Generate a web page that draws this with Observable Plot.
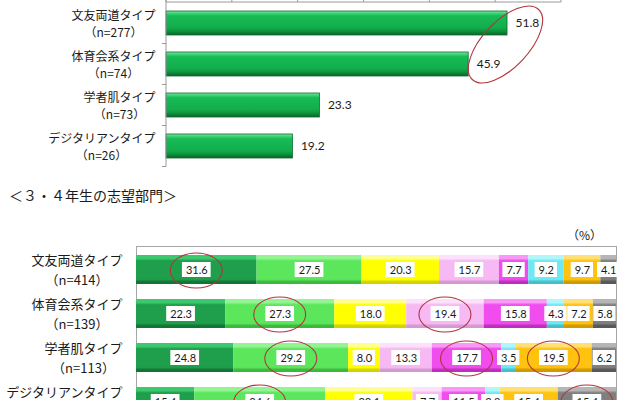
<!DOCTYPE html>
<html><head><meta charset="utf-8">
<script src="https://cdn.jsdelivr.net/npm/d3@7"></script>
<script src="https://cdn.jsdelivr.net/npm/@observablehq/plot@0.6"></script>
<style>
body{margin:0;background:#fff;width:640px;height:400px;overflow:hidden;position:relative;font-family:"Noto Sans CJK JP",sans-serif;color:#1a1a1a;}
#top{position:absolute;left:0;top:0}
#title{position:absolute;left:9px;top:185px;font-size:14px;line-height:20px;white-space:nowrap;}
#pct{position:absolute;left:567px;top:227px;font-size:12px;line-height:16px;white-space:nowrap;}
#bottom{position:absolute;left:0;top:243px}
</style></head><body>
<svg id="defs" width="0" height="0" style="position:absolute;left:0;top:0"><defs></defs></svg>
<div id="top"></div>
<div id="title">＜３・４年生の志望部門＞</div>
<div id="pct">（%）</div>
<div id="bottom"></div>
<script>
// ---- data ----
const topCats = ["文友両道タイプ", "体育会系タイプ", "学者肌タイプ", "デジタリアンタイプ"];
const topN = [277, 74, 73, 26];
const topValues = [51.8, 45.9, 23.3, 19.2];
const topTicks = [0, 10, 20, 30, 40, 50, 60];
const topHighlight = [0, 1];

const bottomCats = ["文友両道タイプ", "体育会系タイプ", "学者肌タイプ", "デジタリアンタイプ"];
const bottomN = [414, 139, 113, 26];
const seriesNames = ["部門A", "部門B", "部門C", "部門D", "部門E", "部門F", "部門G", "部門H"];
const row1 = [31.6, 27.5, 20.3, 15.7, 7.7, 9.2, 9.7, 4.1];
const row2 = [22.3, 27.3, 18.0, 19.4, 15.8, 4.3, 7.2, 5.8];
const row3 = [24.8, 29.2, 8.0, 13.3, 17.7, 3.5, 19.5, 6.2];
const row4 = [15.4, 34.6, 23.1, 7.7, 11.5, 3.8, 15.4, 15.4];
const bottomRows = [row1, row2, row3, row4];
const bottomHighlights = [[0,0],[1,1],[1,3],[2,1],[2,4],[2,6],[3,1],[3,7]];

// ---- styles ----
const seriesColors = [
  ["#3cc86c", "#1f9e4c", "#137535"],
  ["#92f592", "#5ce65c", "#3cb83c"],
  ["#ffff90", "#ffff00", "#d2d200"],
  ["#fde0fb", "#f7b9f3", "#d598d1"],
  ["#fa98f8", "#f04cee", "#bb2fbb"],
  ["#b0f6fa", "#6ee9f2", "#46bec8"],
  ["#ffe070", "#ffc20e", "#cf9900"],
  ["#b5b5b5", "#7f7f7f", "#585858"]
];
const jp = "'Noto Sans CJK JP', sans-serif";
const num = "Lato, 'Open Sans', sans-serif";
const txt = "#1a1a1a";
const ellipseColor = "#b3343c";

// gradients
const defs = d3.select("#defs defs");
function grad(id, stops) {
  const g = defs.append("linearGradient").attr("id", id).attr("x1", 0).attr("y1", 0).attr("x2", 0).attr("y2", 1);
  stops.forEach(([o, c]) => g.append("stop").attr("offset", o).attr("stop-color", c));
}
grad("gTop", [[0, "#7ae6a2"], [0.1, "#3ad375"], [0.2, "#17bb55"], [0.7, "#12ad4b"], [0.85, "#0e8f3d"], [1, "#096328"]]);
seriesColors.forEach(([l, m, d], i) => grad("gs" + i, [[0, l], [0.12, l], [0.2, m], [0.84, m], [0.92, d], [1, d]]));

const mctx = document.createElement("canvas").getContext("2d");
function tw(s, font) { mctx.font = font; return mctx.measureText(s).width; }

// ---- top chart ----
const topData = topCats.map((c, i) => ({cat: c, n: topN[i], value: topValues[i]}));

function topDecor(index, scales, values, dim) {
  const x = scales.x, y = scales.y;
  const bw = y.bandwidth(), step = y.step();
  const g = d3.create("svg:g").attr("stroke", "#9a9a9a").attr("fill", "none");
  const t0 = dim.marginTop;
  g.append("line").attr("x1", x(topTicks[0])).attr("x2", x(topTicks[topTicks.length - 1])).attr("y1", t0).attr("y2", t0);
  topTicks.forEach(t => g.append("line").attr("x1", x(t)).attr("x2", x(t)).attr("y1", t0 - 4).attr("y2", t0));
  const lastBottom = y(topCats[topCats.length - 1]) + bw + (step - bw) / 2;
  g.append("line").attr("x1", x(0)).attr("x2", x(0)).attr("y1", 0).attr("y2", lastBottom);
  topCats.forEach(c => {
    const yb = y(c) + bw + (step - bw) / 2;
    g.append("line").attr("x1", x(0) - 4).attr("x2", x(0)).attr("y1", yb).attr("y2", yb);
  });
  // highlight ellipse around two value labels
  const font = "12px " + num;
  const pts = topHighlight.map(i => {
    const s = topValues[i].toFixed(1);
    return [x(topValues[i]) + 8 + tw(s, font) / 2, y(topCats[i]) + bw / 2];
  });
  const [p, q] = pts;
  const cx = (p[0] + q[0]) / 2 - 2, cy = (p[1] + q[1]) / 2 + 1;
  const dist = Math.hypot(p[0] - q[0], p[1] - q[1]);
  const ang = Math.atan2(p[1] - q[1], p[0] - q[0]) * 180 / Math.PI;
  g.append("ellipse").attr("cx", 0).attr("cy", 0).attr("rx", dist / 2 + 20).attr("ry", 23)
    .attr("transform", `translate(${cx},${cy}) rotate(${ang})`)
    .attr("stroke", ellipseColor).attr("stroke-width", 1.1);
  return g.node();
}

const topLine2 = topCats.map((c, i) => {
  const w1 = tw(c, "12px " + jp);
  return Plot.text([topData[i]], {y: "cat", frameAnchor: "left", textAnchor: "middle",
    text: d => `（n=${d.n}）`, dx: -11 - w1 / 2, dy: 10, fontSize: 12, fontFamily: jp, fill: txt});
});

const topPlot = Plot.plot({
  width: 640, height: 170,
  marginLeft: 166, marginRight: 79, marginTop: 2, marginBottom: 3,
  x: {domain: [0, 60], axis: null},
  y: {domain: topCats, axis: null, paddingInner: 0.42, paddingOuter: 0.19},
  style: {fontFamily: jp, background: "transparent", overflow: "visible"},
  marks: [
    Plot.barX(topData, {x: "value", y: "cat", fill: "url(#gTop)", stroke: "#0a6a2e", strokeWidth: 0.8}),
    Plot.text(topData, {x: "value", y: "cat", text: d => d.value.toFixed(1), dx: 8, textAnchor: "start", fontSize: 12, fontFamily: num, fill: txt}),
    Plot.text(topData, {y: "cat", frameAnchor: "left", textAnchor: "end", text: "cat", dx: -11, dy: -7, fontSize: 12, fontFamily: jp, fill: txt}),
    ...topLine2,
    topDecor
  ]
});
document.getElementById("top").append(topPlot);

// ---- bottom chart ----
const bottomData = [];
bottomRows.forEach((r, i) => r.forEach((v, j) => bottomData.push({cat: bottomCats[i], n: bottomN[i], series: seriesNames[j], si: j, value: v})));

function labelBoxes(index, scales, values, dim) {
  const x = scales.x, y = scales.y;
  const bw = y.bandwidth();
  const g = d3.create("svg:g");
  const font = "11px " + num;
  bottomRows.forEach((r, i) => {
    const total = d3.sum(r);
    let cum = 0;
    r.forEach(v => {
      const mid = (cum + v / 2) / total;
      cum += v;
      const w = tw(v.toFixed(1), font) + 7;
      g.append("rect").attr("x", x(mid) - w / 2).attr("y", y(bottomCats[i]) + bw / 2 - 7.5)
        .attr("width", w).attr("height", 15).attr("fill", "#fff");
    });
  });
  return g.node();
}

function bottomEllipses(index, scales, values, dim) {
  const x = scales.x, y = scales.y;
  const bw = y.bandwidth();
  const g = d3.create("svg:g").attr("fill", "none").attr("stroke", ellipseColor).attr("stroke-width", 1.1);
  bottomHighlights.forEach(([i, j]) => {
    const r = bottomRows[i];
    const total = d3.sum(r);
    const mid = (d3.sum(r.slice(0, j)) + r[j] / 2) / total;
    g.append("ellipse").attr("cx", x(mid)).attr("cy", y(bottomCats[i]) + bw / 2 + 1).attr("rx", 26).attr("ry", 17.5);
  });
  return g.node();
}

const bottomLine2 = bottomCats.map((c, i) => {
  const w1 = tw(c, "13px " + jp);
  return Plot.text([{cat: c, n: bottomN[i]}], {y: "cat", frameAnchor: "left", textAnchor: "middle",
    text: d => `（n=${d.n}）`, dx: -14 - w1 / 2, dy: 11, fontSize: 13, fontFamily: jp, fill: txt});
});

const bottomPlot = Plot.plot({
  width: 640, height: 188,
  marginLeft: 136, marginRight: 24, marginTop: 3, marginBottom: 5,
  x: {axis: null},
  y: {domain: bottomCats, axis: null, paddingInner: 0.33, paddingOuter: 0.18},
  color: {type: "identity"},
  style: {fontFamily: jp, background: "transparent", overflow: "visible"},
  marks: [
    Plot.frame({stroke: "#a6a6a6"}),
    Plot.barX(bottomData, Plot.stackX({x: "value", y: "cat", z: "series", fill: d => `url(#gs${d.si})`, offset: "normalize"})),
    labelBoxes,
    Plot.text(bottomData, Plot.stackX({x: "value", y: "cat", z: "series", text: d => d.value.toFixed(1), offset: "normalize", fontSize: 11, fontFamily: num, fill: txt})),
    bottomEllipses,
    Plot.text(bottomCats, {y: d => d, frameAnchor: "left", textAnchor: "end", text: d => d, dx: -14, dy: -9, fontSize: 13, fontFamily: jp, fill: txt}),
    ...bottomLine2
  ]
});
document.getElementById("bottom").append(bottomPlot);
</script>
</body></html>
